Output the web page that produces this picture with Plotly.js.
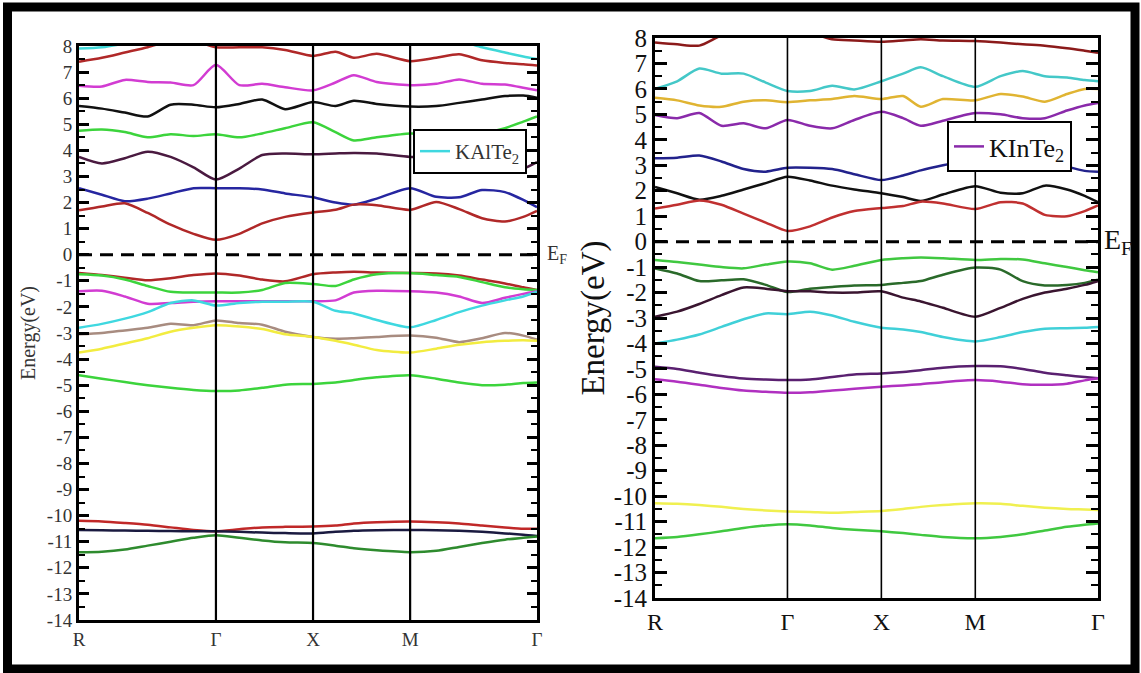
<!DOCTYPE html>
<html>
<head>
<meta charset="utf-8">
<script src="https://cdn.plot.ly/plotly-3.0.1.min.js"></script>
<style>html,body{margin:0;padding:0;background:#fff;}#chart{width:1141px;height:673px;}</style>
</head>
<body>
<div id="chart"></div>
<script>
// k-path sample positions (fraction of path) and high-symmetry points
const kGrid = [0, 0.05, 0.10, 0.15, 0.20, 0.25, 0.299, 0.35, 0.40, 0.45, 0.511, 0.56, 0.60, 0.65, 0.723, 0.78, 0.83, 0.88, 0.93, 0.97, 1.0];
const kPoints = [0, 0.299, 0.511, 0.723, 1.0];
const kLabels = ["R", "Γ", "X", "M", "Γ"];
const energyTicks = [8,7,6,5,4,3,2,1,0,-1,-2,-3,-4,-5,-6,-7,-8,-9,-10,-11,-12,-13,-14];
const energyTickText = ["8","7","6","5","4","3","2","1","0","-1","-2","-3","-4","-5","-6","-7","-8","-9","-10","-11","-12","-13","-14"];

// ---------- KAlTe2 (left panel) bands ----------
const kal_cb1 = [1.70,1.85,1.97,1.60,1.15,0.80,0.57,0.80,1.20,1.45,1.62,1.72,1.92,1.90,1.72,2.02,1.75,1.40,1.27,1.45,1.68];
const kal_cb2 = [2.55,2.30,2.05,2.15,2.35,2.55,2.55,2.55,2.50,2.35,2.20,2.00,1.92,2.15,2.55,2.22,2.20,2.48,2.40,2.10,1.82];
const kal_cb3 = [3.75,3.50,3.70,3.95,3.75,3.35,2.88,3.30,3.82,3.88,3.85,3.88,3.90,3.88,3.75,3.75,3.70,3.55,3.22,3.30,3.55];
const kal_cb4 = [4.75,4.80,4.70,4.50,4.62,4.55,4.62,4.50,4.65,4.85,5.08,4.70,4.38,4.50,4.65,4.60,4.55,4.65,4.85,5.10,5.30];
const kal_cb5 = [5.70,5.60,5.45,5.30,5.75,5.75,5.65,5.78,5.95,5.58,5.85,5.70,5.90,5.78,5.68,5.70,5.82,5.95,6.08,6.10,6.02];
const kal_cb6 = [6.48,6.45,6.70,6.62,6.60,6.50,7.28,6.50,6.55,6.42,6.30,6.60,6.88,6.62,6.50,6.55,6.72,6.55,6.52,6.40,6.30];
const kal_cb7 = [7.40,7.55,7.75,7.95,8.20,8.20,7.95,7.95,7.95,7.85,7.62,7.78,7.55,7.70,7.42,7.55,7.68,7.45,7.35,7.30,7.25];
const kal_cb8 = [7.90,7.95,8.10,8.30,8.30,8.30,8.30,8.30,8.30,8.30,8.30,8.30,8.30,8.30,8.30,8.30,8.20,7.95,7.75,7.60,7.50];
const kal_vb1 = [-0.70,-0.78,-0.88,-0.98,-0.90,-0.78,-0.72,-0.80,-0.95,-1.02,-0.75,-0.68,-0.65,-0.68,-0.70,-0.72,-0.80,-0.95,-1.10,-1.25,-1.35];
const kal_vb2 = [-0.75,-0.80,-0.95,-1.20,-1.42,-1.45,-1.45,-1.45,-1.35,-1.08,-1.12,-1.20,-0.95,-0.75,-0.70,-0.78,-0.85,-1.05,-1.25,-1.32,-1.35];
const kal_vb3 = [-1.40,-1.38,-1.60,-1.88,-1.85,-1.80,-1.78,-1.78,-1.78,-1.78,-1.78,-1.75,-1.45,-1.38,-1.40,-1.45,-1.60,-1.85,-1.65,-1.50,-1.40];
const kal_vb4 = [-2.80,-2.65,-2.45,-2.20,-1.85,-1.75,-1.95,-1.85,-1.80,-1.80,-1.80,-2.15,-2.25,-2.50,-2.78,-2.50,-2.20,-1.95,-1.75,-1.60,-1.42];
const kal_vb5 = [-3.05,-3.00,-2.90,-2.80,-2.65,-2.70,-2.52,-2.62,-2.68,-2.95,-3.15,-3.22,-3.20,-3.15,-3.10,-3.18,-3.35,-3.20,-3.00,-3.10,-3.25];
const kal_vb6 = [-3.75,-3.60,-3.40,-3.20,-2.95,-2.80,-2.70,-2.75,-2.85,-3.05,-3.15,-3.30,-3.45,-3.65,-3.75,-3.60,-3.45,-3.35,-3.30,-3.28,-3.30];
const kal_vb7 = [-4.62,-4.75,-4.88,-5.00,-5.10,-5.18,-5.22,-5.20,-5.10,-4.98,-4.95,-4.90,-4.80,-4.70,-4.62,-4.75,-4.90,-5.00,-4.98,-4.92,-4.90];
const kal_d1 = [-10.20,-10.22,-10.28,-10.35,-10.45,-10.55,-10.60,-10.52,-10.45,-10.43,-10.42,-10.38,-10.30,-10.25,-10.22,-10.25,-10.30,-10.38,-10.45,-10.50,-10.50];
const kal_d2 = [-10.55,-10.56,-10.57,-10.58,-10.59,-10.60,-10.60,-10.62,-10.65,-10.67,-10.68,-10.62,-10.58,-10.56,-10.55,-10.56,-10.58,-10.62,-10.68,-10.73,-10.78];
const kal_d3 = [-11.40,-11.38,-11.30,-11.15,-11.00,-10.85,-10.75,-10.85,-10.95,-11.02,-11.05,-11.15,-11.25,-11.33,-11.40,-11.35,-11.20,-11.05,-10.92,-10.85,-10.80];

// ---------- KInTe2 (right panel) bands ----------
const kin_cb1 = [1.30,1.45,1.62,1.45,1.10,0.75,0.42,0.60,0.95,1.20,1.32,1.40,1.57,1.50,1.28,1.55,1.50,1.05,1.00,1.20,1.42];
const kin_cb2 = [2.15,1.90,1.65,1.80,2.05,2.30,2.55,2.40,2.20,2.05,1.90,1.75,1.60,1.85,2.18,1.92,1.90,2.20,2.05,1.80,1.55];
const kin_cb3 = [3.28,3.30,3.38,3.15,2.85,2.75,2.90,2.90,2.85,2.65,2.42,2.60,2.80,3.00,3.25,3.35,3.35,3.20,2.95,2.78,2.75];
const kin_cb4 = [4.98,4.85,5.05,4.55,4.65,4.45,4.78,4.55,4.45,4.78,5.10,4.85,4.55,4.75,5.05,5.00,4.85,4.85,5.15,5.35,5.45];
const kin_cb5 = [5.65,5.55,5.35,5.30,5.50,5.55,5.48,5.55,5.60,5.72,5.60,5.72,5.30,5.60,5.55,5.80,5.70,5.50,5.80,6.00,6.00];
const kin_cb6 = [6.00,6.30,6.80,6.60,6.60,6.25,5.92,5.92,6.12,5.98,6.30,6.60,6.85,6.50,6.08,6.50,6.70,6.50,6.45,6.35,6.30];
const kin_cb7 = [7.82,7.75,7.70,8.10,8.30,8.30,8.30,8.20,7.95,7.90,7.85,7.90,7.95,7.90,7.88,7.82,7.75,7.70,7.60,7.50,7.42];
const kin_vb1 = [-0.72,-0.80,-0.90,-1.00,-1.05,-0.90,-0.78,-0.85,-1.10,-0.95,-0.72,-0.65,-0.62,-0.65,-0.72,-0.68,-0.70,-0.85,-1.00,-1.12,-1.20];
const kin_vb2 = [-1.05,-1.25,-1.55,-1.52,-1.48,-1.70,-1.98,-1.85,-1.78,-1.72,-1.70,-1.62,-1.55,-1.30,-1.02,-1.10,-1.55,-1.72,-1.70,-1.62,-1.50];
const kin_vb3 = [-2.95,-2.75,-2.45,-2.10,-1.80,-1.85,-1.95,-1.95,-2.00,-2.00,-1.95,-2.20,-2.35,-2.60,-2.95,-2.60,-2.25,-2.00,-1.85,-1.70,-1.55];
const kin_vb4 = [-4.00,-3.85,-3.65,-3.35,-3.05,-2.82,-2.85,-2.75,-2.90,-3.15,-3.38,-3.45,-3.55,-3.75,-3.92,-3.75,-3.55,-3.42,-3.40,-3.38,-3.35];
const kin_vb5 = [-4.92,-5.00,-5.15,-5.28,-5.38,-5.42,-5.44,-5.42,-5.32,-5.22,-5.18,-5.12,-5.05,-4.95,-4.89,-4.90,-5.00,-5.15,-5.25,-5.32,-5.37];
const kin_vb6 = [-5.41,-5.50,-5.62,-5.75,-5.85,-5.90,-5.94,-5.92,-5.85,-5.78,-5.70,-5.65,-5.60,-5.52,-5.44,-5.50,-5.60,-5.62,-5.58,-5.45,-5.37];
const kin_d1 = [-10.28,-10.30,-10.35,-10.42,-10.50,-10.56,-10.60,-10.62,-10.65,-10.62,-10.58,-10.50,-10.42,-10.35,-10.28,-10.30,-10.38,-10.45,-10.50,-10.52,-10.54];
const kin_d2 = [-11.65,-11.60,-11.50,-11.38,-11.25,-11.15,-11.10,-11.15,-11.25,-11.32,-11.38,-11.45,-11.52,-11.60,-11.65,-11.60,-11.50,-11.35,-11.20,-11.12,-11.07];

const leftBands = [
  [kal_cb8, "#3fd8d8"], [kal_cb7, "#b02828"], [kal_cb6, "#d23cd2"], [kal_cb5, "#111111"],
  [kal_cb4, "#3cd43c"], [kal_cb3, "#4a1a40"], [kal_cb2, "#2626a0"], [kal_cb1, "#b02828"],
  [kal_vb1, "#b02828"], [kal_vb2, "#3cd43c"], [kal_vb3, "#d23cd2"], [kal_vb4, "#3fd8e0", "KAlTe<sub>2</sub>"],
  [kal_vb5, "#a88c80"], [kal_vb6, "#f2ec40"], [kal_vb7, "#3cd43c"],
  [kal_d1, "#c02828"], [kal_d2, "#1a1a40"], [kal_d3, "#2e8b2e"]
];
const rightBands = [
  [kin_cb7, "#8b1a1a"], [kin_cb6, "#44c8c8"], [kin_cb5, "#e0b432"], [kin_cb4, "#8a2aaa", "KInTe<sub>2</sub>"],
  [kin_cb3, "#22228c"], [kin_cb2, "#111111"], [kin_cb1, "#c03030"],
  [kin_vb1, "#40c840"], [kin_vb2, "#2a6a2a"], [kin_vb3, "#3a1530"], [kin_vb4, "#40d0d8"],
  [kin_vb5, "#5a2070"], [kin_vb6, "#b030c0"],
  [kin_d1, "#f0f050"], [kin_d2, "#40c840"]
];

const traces = [];
leftBands.forEach(b => traces.push({
  x: kGrid, y: b[0], type: "scatter", mode: "lines", xaxis: "x", yaxis: "y",
  line: {color: b[1], width: 2.5, shape: "spline", smoothing: 0.7},
  name: b[2] || "", showlegend: !!b[2], legend: "legend", hoverinfo: "skip", cliponaxis: true
}));
rightBands.forEach(b => traces.push({
  x: kGrid, y: b[0], type: "scatter", mode: "lines", xaxis: "x2", yaxis: "y2",
  line: {color: b[1], width: 2.5, shape: "spline", smoothing: 0.7},
  name: b[2] || "", showlegend: !!b[2], legend: "legend2", hoverinfo: "skip", cliponaxis: true
}));

const W = 1141, H = 673;
const serif = "Liberation Serif, Times New Roman, serif";

function yAx(domain, fsize, col, tlen, mlen, titleSize, standoff) {
  return {
    domain: domain, range: [-14, 8], tickmode: "array", tickvals: energyTicks, ticktext: energyTickText,
    ticks: "inside", ticklen: tlen, tickwidth: 3, tickcolor: "#000",
    minor: {tickmode: "linear", tick0: 0.5, dtick: 1, ticks: "inside", ticklen: mlen, tickwidth: 2, tickcolor: "#000"},
    showline: true, linewidth: 3, linecolor: "#000", mirror: "allticks",
    showgrid: false, zeroline: false, tickfont: {family: serif, size: fsize, color: col},
    title: {text: "Energy(eV)", font: {family: serif, size: titleSize, color: col}, standoff: standoff}
  };
}
function xAx(domain, fsize, col, anchor) {
  return {
    domain: domain, range: [0, 1], tickmode: "array", tickvals: kPoints, ticktext: kLabels,
    ticks: "", showline: true, linewidth: 3, linecolor: "#000", mirror: true,
    showgrid: false, zeroline: false, anchor: anchor, tickfont: {family: serif, size: fsize, color: col}
  };
}

const shapes = [];
[["x","y",2.2],["x2","y2",1.6]].forEach(p => {
  kPoints.slice(1, 4).forEach(k => shapes.push({
    type: "line", xref: p[0], yref: p[1] + " domain", x0: k, x1: k, y0: 0, y1: 1,
    line: {color: "#000", width: p[2]}
  }));
  shapes.push({
    type: "line", xref: p[0] + " domain", yref: p[1], x0: 0, x1: 1, y0: 0, y1: 0,
    line: {color: "#000", width: 3, dash: "13px,8px"}
  });
});
// outer black frame
shapes.push({type: "rect", xref: "paper", yref: "paper",
  x0: 7.5 / W, x1: 1135 / W, y0: 1 - 669 / H, y1: 1 - 7 / H, line: {color: "#000", width: 9}});

const layout = {
  width: W, height: H, margin: {l: 0, r: 0, t: 0, b: 0},
  paper_bgcolor: "#fff", plot_bgcolor: "#fff", showlegend: true,
  xaxis: xAx([79 / W, 537 / W], 19, "#333", "y"),
  yaxis: yAx([53 / H, 627 / H], 19, "#333", 10, 6, 20, 6),
  xaxis2: xAx([655 / W, 1098 / W], 24, "#111", "y2"),
  yaxis2: yAx([75 / H, 635 / H], 25, "#111", 12, 7, 33, 0),
  legend: {x: 413 / W, y: 1 - 129 / H, xanchor: "left", yanchor: "top", bgcolor: "#fff",
    bordercolor: "#000", borderwidth: 2, font: {family: serif, size: 21, color: "#333"}},
  legend2: {x: 947 / W, y: 1 - 121 / H, xanchor: "left", yanchor: "top", bgcolor: "#fff",
    bordercolor: "#000", borderwidth: 2, font: {family: serif, size: 26, color: "#111"}},
  shapes: shapes,
  annotations: [
    {text: "E<sub>F</sub>", xref: "paper", yref: "y", x: 545 / W, y: 0, xanchor: "left", yanchor: "middle",
      showarrow: false, font: {family: serif, size: 20, color: "#333"}},
    {text: "E<sub>F</sub>", xref: "paper", yref: "y2", x: 1102 / W, y: 0, xanchor: "left", yanchor: "middle",
      showarrow: false, font: {family: serif, size: 28, color: "#111"}}
  ]
};
layout.xaxis2.anchor = "y2";
layout.yaxis2.anchor = "x2";

Plotly.newPlot("chart", traces, layout, {displayModeBar: false, staticPlot: true});
</script>
</body>
</html>
